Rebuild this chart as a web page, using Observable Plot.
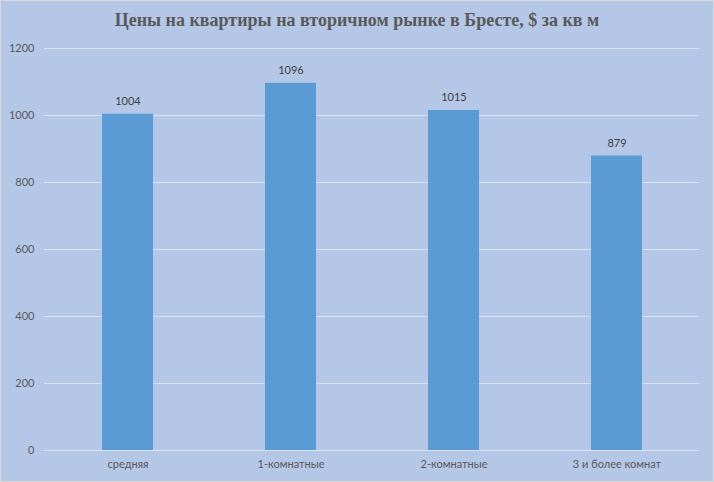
<!DOCTYPE html>
<html><head><meta charset="utf-8">
<script src="https://cdn.jsdelivr.net/npm/d3@7"></script>
<script src="https://cdn.jsdelivr.net/npm/@observablehq/plot@0.6"></script>
<style>
html,body{margin:0;padding:0;}
#wrap{width:714px;height:482px;box-sizing:border-box;border:1px solid #d9d9d9;background:#b4c7e7;overflow:hidden;}
#title{height:38px;line-height:38px;text-align:center;font-family:"Liberation Serif","Times New Roman",serif;font-weight:bold;font-size:18px;color:#595959;}
svg{display:block;}
</style></head><body>
<div id="wrap"><div id="title">Цены на квартиры на вторичном рынке в Бресте, $ за кв м</div><div id="chart"></div></div>
<script>
const categories = ["средняя","1-комнатные","2-комнатные","3 и более комнат"];
const values = [1004,1096,1015,879];
const yTicks = [0,200,400,600,800,1000,1200];
const data = categories.map((c,i)=>({cat:c, value:values[i]}));
const chart = Plot.plot({
  width: 712, height: 442,
  marginTop: 9, marginBottom: 31, marginLeft: 43, marginRight: 14,
  style:{background:"transparent", fontFamily:"Lato, 'Liberation Sans', sans-serif", fontSize:"11px", color:"#595959"},
  x:{domain:categories, paddingInner:0.69, paddingOuter:0.345, label:null},
  y:{domain:[0,1200], label:null},
  marks:[
    Plot.ruleY(yTicks,{stroke:"#d9e1f2", strokeWidth:1}),
    Plot.barY(data,{x:"cat", y:"value", fill:"#5b9bd5"}),
    Plot.text(data,{x:"cat", y:"value", text:d=>String(d.value), dy:-13, fill:"#404040", fontSize:11}),
    Plot.axisX({tickSize:0, tickPadding:10, fill:"#595959"}),
    Plot.axisY({ticks:yTicks, tickFormat:d3.format("d"), tickSize:0, tickPadding:10, fill:"#595959"})
  ]
});
document.getElementById("chart").appendChild(chart);
</script>
</body></html>
